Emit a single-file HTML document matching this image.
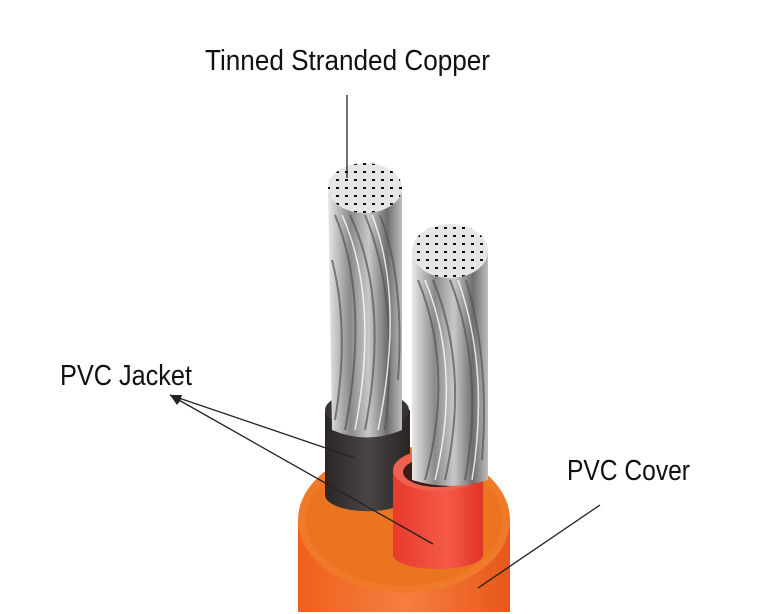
<!DOCTYPE html><html><head><style>body{margin:0;background:#fff}svg{display:block}text{font-family:"Liberation Sans",sans-serif;font-size:29px;fill:#111}</style></head><body>
<svg width="777" height="614" viewBox="0 0 777 614" xmlns="http://www.w3.org/2000/svg">
<defs>
<linearGradient id="gr" x1="0" x2="1"><stop offset="0" stop-color="#e8e8e8"/><stop offset=".3" stop-color="#8a8a8a"/><stop offset=".55" stop-color="#c8c8c8"/><stop offset=".8" stop-color="#6e6e6e"/><stop offset="1" stop-color="#bdbdbd"/></linearGradient>
<linearGradient id="or" x1="0" x2="1"><stop offset="0" stop-color="#f0601c"/><stop offset=".5" stop-color="#f47e40"/><stop offset="1" stop-color="#e8581a"/></linearGradient>
<linearGradient id="bk" x1="0" x2="1"><stop offset="0" stop-color="#2a2626"/><stop offset=".5" stop-color="#4a4444"/><stop offset="1" stop-color="#2a2525"/></linearGradient>
<linearGradient id="rd" x1="0" x2="1"><stop offset="0" stop-color="#e8392c"/><stop offset=".6" stop-color="#f45a48"/><stop offset="1" stop-color="#e03428"/></linearGradient>
<pattern id="dots" width="9" height="8" patternUnits="userSpaceOnUse"><rect width="9" height="8" fill="#e6e6e6"/><rect x="3" y="3" width="3" height="2" fill="#111"/></pattern>
</defs>
<path d="M298 520 L298 612 L510 612 L510 520 Z" fill="url(#or)"/>
<ellipse cx="404" cy="520" rx="106" ry="73" fill="#f07a2a"/>
<ellipse cx="404" cy="520" rx="98" ry="66" fill="#ea7420"/>
<path d="M325 410 L325 495 A42 16 0 0 0 410 495 L410 410 Z" fill="url(#bk)"/>
<ellipse cx="367" cy="410" rx="42" ry="18" fill="#3a3434"/>
<ellipse cx="367" cy="412" rx="33" ry="13" fill="#151212"/>
<path d="M328 188 L332 430 Q367 445 402 430 L402 188 Z" fill="url(#gr)"/>
<g stroke="#555" stroke-width="2" fill="none" opacity=".7">
<path d="M335 215 Q370 300 345 430"/><path d="M350 215 Q390 300 365 430"/><path d="M365 215 Q400 300 385 430"/><path d="M380 215 Q405 280 398 380"/><path d="M332 260 Q350 330 335 420"/></g>
<g stroke="#fff" stroke-width="1.5" fill="none" opacity=".8">
<path d="M342 215 Q380 300 355 430"/><path d="M372 215 Q405 300 378 430"/></g>
<ellipse cx="365" cy="188" rx="37" ry="25" fill="url(#dots)"/>
<path d="M393 470 L393 555 A45 14 0 0 0 483 555 L483 470 Z" fill="url(#rd)"/>
<ellipse cx="438" cy="470" rx="45" ry="21" fill="#f06050"/>
<ellipse cx="438" cy="472" rx="35" ry="15" fill="#3a1a14"/>
<path d="M412 251 L412 480 Q450 492 488 480 L488 251 Z" fill="url(#gr)"/>
<g stroke="#555" stroke-width="2" fill="none" opacity=".7">
<path d="M418 280 Q455 370 425 480"/><path d="M433 280 Q470 370 445 480"/><path d="M450 280 Q485 370 465 480"/><path d="M466 280 Q490 360 482 460"/></g>
<g stroke="#fff" stroke-width="1.5" fill="none" opacity=".8">
<path d="M425 280 Q462 370 435 480"/><path d="M458 280 Q490 370 472 480"/></g>
<ellipse cx="450" cy="251" rx="38" ry="27" fill="url(#dots)"/>
<g stroke="#222" stroke-width="1.3" fill="none">
<line x1="347" y1="95" x2="347" y2="178"/>
<line x1="170" y1="395" x2="355" y2="458"/>
<line x1="170" y1="395" x2="433" y2="544"/>
<line x1="600" y1="505" x2="478" y2="588"/>
</g>
<path d="M170 395 L182 395 L179 403 Z" fill="#222"/>
<path d="M170 395 L181 399 L177 405 Z" fill="#222"/>
<text x="205" y="70" textLength="285" lengthAdjust="spacingAndGlyphs">Tinned Stranded Copper</text>
<text x="60" y="385" textLength="132" lengthAdjust="spacingAndGlyphs">PVC Jacket</text>
<text x="567" y="480" textLength="123" lengthAdjust="spacingAndGlyphs">PVC Cover</text>
</svg></body></html>
